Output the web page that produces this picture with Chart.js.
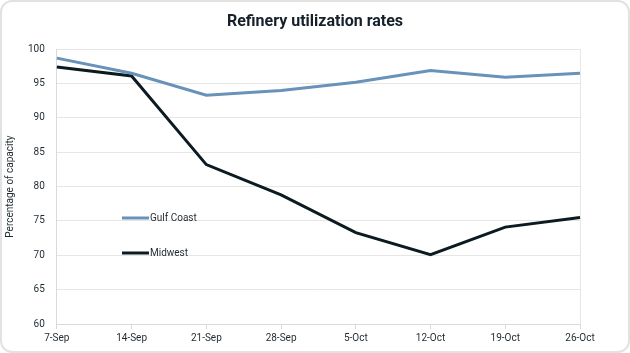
<!DOCTYPE html>
<html>
<head>
<meta charset="utf-8">
<script src="https://cdn.jsdelivr.net/npm/chart.js@4"></script>
<style>
	html, body { margin: 0; padding: 0; background: #fff; }
	#card {
		position: relative;
		width: 630px;
		height: 353px;
		box-sizing: border-box;
		border: 2px solid #e2e2e2;
		border-radius: 12px;
		overflow: hidden;
	}
	#card canvas { position: absolute; left: 0; top: 0; }
</style>
</head>
<body>
<div id="card"><canvas id="chart" width="626" height="349"></canvas></div>
<script>
var weeks = ['7-Sep', '14-Sep', '21-Sep', '28-Sep', '5-Oct', '12-Oct', '19-Oct', '26-Oct'];
var gulfCoast = [98.7, 96.5, 93.3, 94.0, 95.2, 96.9, 95.9, 96.5];
var midwest = [97.4, 96.1, 83.2, 78.8, 73.3, 70.1, 74.1, 75.5];
var seriesNames = ['Gulf Coast', 'Midwest'];
var seriesColors = ['#6892b9', '#0c1a21'];

var fontFam = 'Roboto, "Noto Sans", sans-serif';
var textColor = '#1f2a30';

// legend sits inside the plot, left side
var innerLegend = {
	id: 'innerLegend',
	afterDatasetsDraw: function (chart) {
		var ctx = chart.ctx;
		var x0 = 120, ys = [216, 251];
		ctx.save();
		chart.data.datasets.forEach(function (ds, i) {
			ctx.strokeStyle = ds.borderColor;
			ctx.lineWidth = 3;
			ctx.beginPath();
			ctx.moveTo(x0, ys[i]);
			ctx.lineTo(x0 + 27, ys[i]);
			ctx.stroke();
			ctx.fillStyle = textColor;
			ctx.font = '10px ' + fontFam;
			ctx.textBaseline = 'middle';
			ctx.fillText(ds.label, x0 + 28, ys[i]);
		});
		ctx.restore();
	}
};

new Chart(document.getElementById('chart'), {
	type: 'line',
	data: {
		labels: weeks,
		datasets: [
			{ label: seriesNames[0], data: gulfCoast, borderColor: seriesColors[0], borderWidth: 3, pointRadius: 0, tension: 0 },
			{ label: seriesNames[1], data: midwest, borderColor: seriesColors[1], borderWidth: 3, pointRadius: 0, tension: 0 }
		]
	},
	options: {
		responsive: false,
		animation: false,
		layout: { padding: { left: 0, right: 0, top: 0, bottom: 4 } },
		plugins: {
			legend: { display: false },
			tooltip: { enabled: false },
			title: {
				display: true,
				text: 'Refinery utilization rates',
				color: '#15202a',
				font: { family: fontFam, size: 16, weight: 'bold' },
				padding: { top: 10, bottom: 18 }
			}
		},
		scales: {
			x: {
				offset: false,
				grid: { drawOnChartArea: false, color: '#d9d9d9', tickLength: 5 },
				border: { color: '#d9d9d9' },
				ticks: { color: textColor, font: { family: fontFam, size: 10 }, maxRotation: 0, autoSkip: false, padding: 3 }
			},
			y: {
				min: 60,
				max: 100,
				ticks: { stepSize: 5, color: textColor, font: { family: fontFam, size: 10 }, padding: 12 },
				grid: { color: '#e6e6e6', tickLength: 0 },
				border: { color: '#d9d9d9' },
				title: {
					display: true,
					text: 'Percentage of capacity',
					color: textColor,
					font: { family: fontFam, size: 10 },
					padding: { top: 2, bottom: 0 }
				}
			},
			yRight: {
				position: 'right',
				display: true,
				ticks: { display: false },
				grid: { display: false },
				border: { color: '#e6e6e6' },
				afterFit: function (s) { s.width = 48; }
			}
		}
	},
	plugins: [innerLegend]
});
</script>
</body>
</html>
